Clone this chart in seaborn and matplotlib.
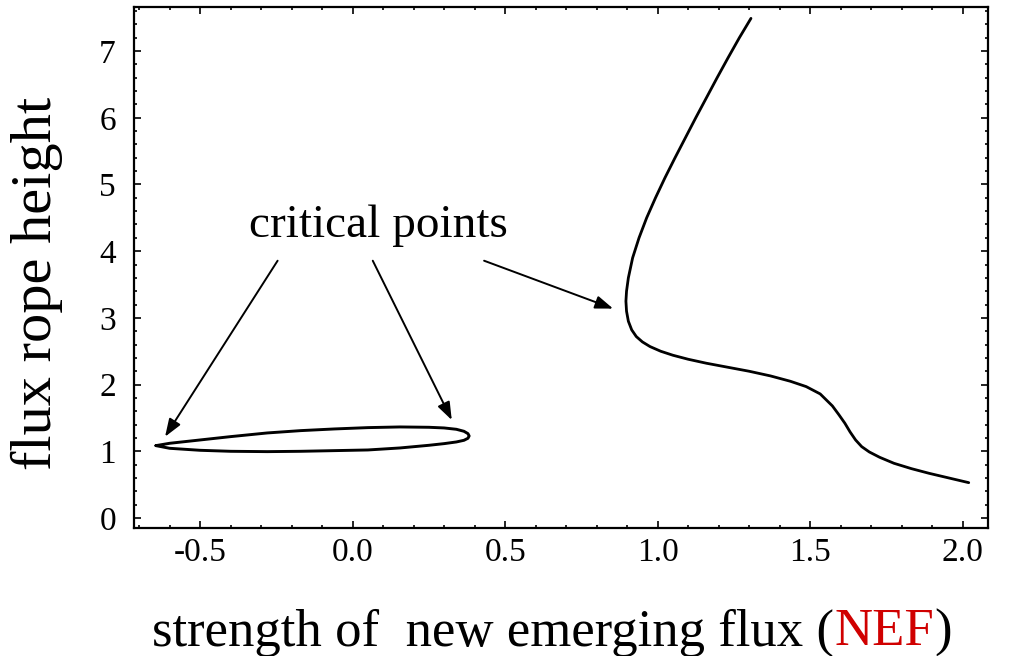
import matplotlib
matplotlib.use("Agg")
import matplotlib.pyplot as plt
import seaborn as sns
from matplotlib.ticker import MultipleLocator
from matplotlib.offsetbox import TextArea, HPacker, AnchoredOffsetbox

# ---- data ----
# closed loop on the left (upper branch left->right, then lower branch back)
loop_x = [-0.645, -0.60, -0.50, -0.40, -0.28, -0.17, -0.06, 0.05, 0.155, 0.25, 0.30, 0.34, 0.365,
          0.378, 0.382, 0.378, 0.365, 0.34, 0.30, 0.25, 0.155, 0.05, -0.06, -0.17, -0.28,
          -0.40, -0.50, -0.60, -0.645]
loop_y = [1.085, 1.12, 1.17, 1.22, 1.275, 1.31, 1.335, 1.355, 1.365, 1.36, 1.35, 1.33, 1.30,
          1.265, 1.23, 1.195, 1.165, 1.14, 1.115, 1.09, 1.05, 1.02, 1.01, 1.0, 0.995,
          1.0, 1.015, 1.045, 1.085]

# main branch on the right, from the top end down to the bottom right
branch_x = [1.306, 1.268, 1.231, 1.195, 1.160, 1.125, 1.091, 1.057, 1.024, 0.993, 0.964, 0.939,
            0.918, 0.904, 0.898, 0.896, 0.898, 0.904, 0.915, 0.930, 0.950, 0.975, 1.010, 1.050,
            1.100, 1.160, 1.230, 1.300, 1.370, 1.435, 1.487, 1.533, 1.573, 1.594, 1.614, 1.631,
            1.649, 1.669, 1.694, 1.728, 1.775, 1.832, 1.890, 1.955, 2.020]
branch_y = [7.49, 7.20, 6.90, 6.60, 6.30, 6.00, 5.70, 5.40, 5.10, 4.80, 4.50, 4.20,
            3.90, 3.60, 3.40, 3.25, 3.10, 2.95, 2.82, 2.72, 2.64, 2.57, 2.50, 2.44,
            2.38, 2.32, 2.26, 2.20, 2.13, 2.05, 1.97, 1.86, 1.68, 1.55, 1.42, 1.29,
            1.17, 1.07, 0.99, 0.91, 0.82, 0.74, 0.67, 0.60, 0.53]

note_text = "critical points"
note_xy = (0.086, 4.21)
arrow_starts = [(-0.246, 3.857), (0.066, 3.857), (0.431, 3.857)]
arrow_tips = [(-0.615, 1.219), (0.325, 1.469), (0.854, 3.139)]

xlabel_parts = ["strength of  new emerging flux (", "NEF", ")"]
xlabel_colors = ["black", "#d00000", "black"]
ylabel_text = "flux rope height"

# ---- style ----
sns.set_theme(style="ticks")
plt.rcParams["font.family"] = ["Liberation Serif", "DejaVu Serif"]
plt.rcParams["axes.unicode_minus"] = False
plt.rcParams["text.color"] = "black"
plt.rcParams["xtick.color"] = "black"
plt.rcParams["ytick.color"] = "black"
plt.rcParams["lines.solid_joinstyle"] = "round"
plt.rcParams["lines.solid_capstyle"] = "round"

fig = plt.figure(figsize=(10.11, 6.56), dpi=100)
ax = fig.add_axes([0.1325, 0.1951, 0.8447, 0.7942])

sns.lineplot(x=loop_x, y=loop_y, sort=False, estimator=None, color="black", lw=2.1, ax=ax)
sns.lineplot(x=branch_x, y=branch_y, sort=False, estimator=None, color="black", lw=2.0, ax=ax)

ax.set_xlim(-0.717, 2.083)
ax.set_ylim(-0.15, 7.66)

ax.xaxis.set_major_locator(MultipleLocator(0.5))
ax.xaxis.set_minor_locator(MultipleLocator(0.1))
ax.yaxis.set_major_locator(MultipleLocator(1))
ax.yaxis.set_minor_locator(MultipleLocator(0.2))
ax.tick_params(which="both", direction="in", top=True, right=True, colors="black", width=1.2)
ax.tick_params(which="major", length=5)
ax.tick_params(which="minor", length=2.5)
ax.tick_params(axis="x", labelsize=24, pad=7)
ax.tick_params(axis="y", labelsize=24, pad=13)
for sp in ax.spines.values():
    sp.set_linewidth(1.6)
    sp.set_color("black")
    sp.set_visible(True)
ax.set_xlabel("")
ax.set_ylabel("")

# annotation and arrows
ax.text(note_xy[0], note_xy[1], note_text, ha="center", va="baseline", fontsize=34, color="black")
for s, t in zip(arrow_starts, arrow_tips):
    ax.annotate("", xy=t, xytext=s,
                arrowprops=dict(arrowstyle="-|>,head_length=0.6,head_width=0.22",
                                mutation_scale=18, color="black", lw=1.4,
                                shrinkA=0, shrinkB=0))

# y label
fig.text(37 / 1011, 0.568, ylabel_text, rotation=90, ha="center", va="center",
         fontsize=42, color="black")

# x label with coloured acronym
boxes = [TextArea(t, textprops=dict(color=c, fontsize=38)) for t, c in zip(xlabel_parts, xlabel_colors)]
pack = HPacker(children=boxes, align="baseline", pad=0, sep=0)
anchored = AnchoredOffsetbox(loc="center", child=pack, pad=0, borderpad=0, frameon=False,
                             bbox_to_anchor=(0.546, 0.036), bbox_transform=fig.transFigure)
fig.add_artist(anchored)

fig.savefig("out.png", dpi=100)
